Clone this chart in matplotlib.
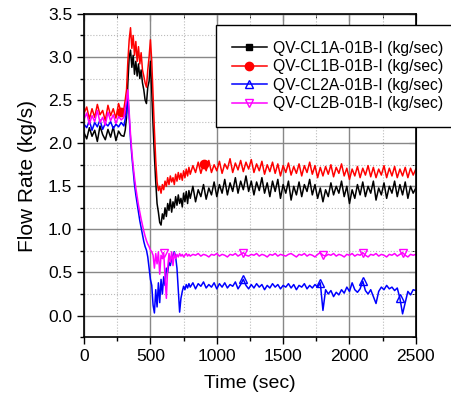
import numpy as np
import matplotlib
matplotlib.use("Agg")
import matplotlib.pyplot as plt
from matplotlib.ticker import MultipleLocator, FormatStrFormatter

plt.rcParams['font.family'] = ['Liberation Sans', 'DejaVu Sans']

# time grid: coarse before/after the transient, finer during it
time = np.concatenate([np.arange(0, 300, 20), np.arange(300, 800, 10), np.arange(800, 2501, 20)])

cl1a = [
    2.12, 2.05, 2.18, 2.08, 2.15, 2.02, 2.20, 2.10, 2.04, 2.16, 2.07, 2.19, 2.03, 2.14, 2.09,
    2.08, 2.15, 2.30, 2.70, 3.00, 3.08, 2.88, 3.02, 2.80, 2.95, 2.78, 2.92, 2.75, 2.85, 2.70,
    2.62, 2.50, 2.46, 2.65, 2.72, 2.95, 2.60, 2.20, 1.85, 1.55, 1.30, 1.20, 1.08, 1.05, 1.18,
    1.12, 1.25, 1.15, 1.30, 1.22, 1.35, 1.20, 1.32, 1.25, 1.38, 1.28, 1.40, 1.30, 1.36, 1.26,
    1.42, 1.32, 1.44, 1.30, 1.45,
    1.36, 1.50, 1.32, 1.46, 1.38, 1.52, 1.35, 1.48, 1.40, 1.55,
    1.38, 1.52, 1.42, 1.58, 1.40, 1.54, 1.44, 1.60, 1.42, 1.56,
    1.46, 1.62, 1.44, 1.56, 1.40, 1.55, 1.45, 1.60, 1.42, 1.54,
    1.38, 1.56, 1.44, 1.58, 1.36, 1.52, 1.42, 1.56, 1.34, 1.50,
    1.40, 1.55, 1.38, 1.52, 1.44, 1.58, 1.40, 1.52, 1.36, 1.48,
    1.32, 1.46, 1.38, 1.54, 1.40, 1.50, 1.42, 1.56, 1.38, 1.50,
    1.30, 1.46, 1.36, 1.52, 1.40, 1.55, 1.38, 1.50, 1.42, 1.56,
    1.34, 1.48, 1.40, 1.54, 1.36, 1.50, 1.42, 1.56, 1.38, 1.52,
    1.40, 1.55, 1.36, 1.50, 1.42, 1.48,
]

cl1b = [
    2.35, 2.42, 2.28, 2.40, 2.30, 2.45, 2.33, 2.38, 2.26, 2.44, 2.32, 2.40, 2.29, 2.46, 2.36,
    2.40, 2.50, 2.62, 2.95, 3.20, 3.34, 3.10, 3.25, 3.02, 3.18, 2.95, 3.12, 2.92, 3.05, 2.85,
    2.78, 2.70, 2.65, 2.85, 3.00, 3.20, 2.95, 2.55, 2.15, 1.80, 1.55, 1.45, 1.50, 1.42, 1.52,
    1.46, 1.56, 1.50, 1.60, 1.52, 1.62, 1.55, 1.60, 1.52, 1.64, 1.56, 1.66, 1.58, 1.65, 1.57,
    1.68, 1.60, 1.70, 1.62, 1.72,
    1.64, 1.74, 1.66, 1.78, 1.65, 1.76, 1.68, 1.80, 1.66, 1.75,
    1.68, 1.79, 1.65, 1.76, 1.70, 1.82, 1.66, 1.77, 1.69, 1.80,
    1.67, 1.78, 1.70, 1.81, 1.66, 1.76, 1.68, 1.79, 1.64, 1.75,
    1.67, 1.78, 1.65, 1.76, 1.62, 1.74, 1.66, 1.77, 1.63, 1.73,
    1.65, 1.76, 1.62, 1.74, 1.66, 1.78, 1.64, 1.74, 1.60, 1.72,
    1.62, 1.73, 1.64, 1.75, 1.61, 1.72, 1.65, 1.76, 1.62, 1.71,
    1.58, 1.70, 1.62, 1.73, 1.60, 1.71, 1.63, 1.74, 1.61, 1.72,
    1.60, 1.70, 1.63, 1.74, 1.60, 1.71, 1.62, 1.73, 1.60, 1.70,
    1.62, 1.72, 1.60, 1.71, 1.63, 1.70,
]

cl2a = [
    2.22, 2.18, 2.26, 2.15, 2.24, 2.19, 2.27, 2.16, 2.23, 2.20, 2.25, 2.17, 2.22, 2.19, 2.24,
    2.20, 2.28, 2.35, 2.55, 2.30, 2.05, 1.85, 1.68, 1.52, 1.40, 1.30, 1.20, 1.10, 1.02, 0.94,
    0.86, 0.80, 0.76, 0.68, 0.55, 0.42, 0.35, 0.12, 0.03, 0.30, 0.10, 0.38, 0.15, 0.42, 0.25,
    0.45, 0.35, 0.55, 0.50, 0.62, 0.58, 0.66, 0.70, 0.74, 0.68, 0.55, 0.30, 0.04, 0.20, 0.28,
    0.34, 0.30, 0.36, 0.32, 0.37,
    0.33, 0.38, 0.31, 0.37, 0.34, 0.39, 0.32, 0.36, 0.33, 0.38,
    0.31, 0.37, 0.33, 0.38, 0.32, 0.36, 0.34, 0.39, 0.31, 0.36,
    0.42, 0.35, 0.31, 0.36, 0.32, 0.37, 0.33, 0.36, 0.30, 0.35,
    0.32, 0.37, 0.33, 0.36, 0.31, 0.35, 0.33, 0.37, 0.32, 0.36,
    0.30, 0.35, 0.33, 0.37, 0.31, 0.35, 0.32, 0.36, 0.33, 0.38,
    0.06, 0.30, 0.25, 0.29, 0.22, 0.27, 0.24, 0.30, 0.26, 0.33,
    0.28, 0.38, 0.30, 0.27, 0.31, 0.40, 0.29, 0.25, 0.30, 0.22,
    0.14, 0.28, 0.33, 0.30, 0.35, 0.31, 0.33, 0.29, 0.32, 0.20,
    0.02, 0.15, 0.28, 0.24, 0.30, 0.29,
]

cl2b = [
    2.28, 2.35, 2.22, 2.32, 2.25, 2.38, 2.24, 2.30, 2.21, 2.36, 2.26, 2.33, 2.23, 2.31, 2.27,
    2.30, 2.40, 2.50, 2.62, 2.35, 2.10, 1.90, 1.74, 1.60, 1.48, 1.38, 1.28, 1.20, 1.12, 1.05,
    0.98, 0.92, 0.87, 0.83, 0.80, 0.76, 0.74, 0.70, 0.55, 0.72, 0.60, 0.74, 0.48, 0.70, 0.66,
    0.73, 0.45, 0.20, 0.55, 0.72, 0.62, 0.74, 0.58, 0.73, 0.66, 0.71, 0.68, 0.72, 0.69, 0.71,
    0.68, 0.70, 0.72, 0.69, 0.71,
    0.69, 0.71, 0.70, 0.72, 0.69, 0.71, 0.70, 0.68, 0.71, 0.70,
    0.72, 0.69, 0.71, 0.70, 0.68, 0.71, 0.70, 0.72, 0.69, 0.71,
    0.73, 0.70, 0.69, 0.71, 0.70, 0.72, 0.69, 0.71, 0.70, 0.68,
    0.71, 0.70, 0.72, 0.69, 0.71, 0.70, 0.69, 0.71, 0.72, 0.70,
    0.68, 0.71, 0.70, 0.72, 0.69, 0.71, 0.70, 0.68, 0.71, 0.73,
    0.70, 0.69, 0.71, 0.70, 0.72, 0.69, 0.71, 0.70, 0.68, 0.71,
    0.70, 0.72, 0.69, 0.71, 0.70, 0.73, 0.70, 0.68, 0.71, 0.70,
    0.72, 0.69, 0.71, 0.70, 0.68, 0.71, 0.70, 0.72, 0.69, 0.71,
    0.73, 0.70, 0.68, 0.71, 0.70, 0.71,
]

labels = ["QV-CL1A-01B-I (kg/sec)", "QV-CL1B-01B-I (kg/sec)",
          "QV-CL2A-01B-I (kg/sec)", "QV-CL2B-01B-I (kg/sec)"]

fig = plt.figure(figsize=(4.52, 3.98), dpi=100)
ax = fig.add_axes([0.186, 0.153, 0.734, 0.812])

ax.plot(time, cl1a, "-", color="black", lw=1.1, marker="s", ms=5, markevery=[], label=labels[0])
ax.plot(time, cl1b, "-", color="red", lw=1.1, marker="o", ms=6, markevery=[14, 70], label=labels[1])
ax.plot(time, cl2a, "-", color="blue", lw=1.1, marker="^", ms=6, mfc="none", markevery=[85, 114, 130, 144], label=labels[2])
ax.plot(time, cl2b, "-", color="magenta", lw=1.1, marker="v", ms=6, mfc="none", markevery=[45, 85, 115, 130, 145], label=labels[3])

ax.set_xlim(0, 2500)
ax.set_ylim(-0.25, 3.5)
ax.xaxis.set_major_locator(MultipleLocator(500))
ax.xaxis.set_minor_locator(MultipleLocator(250))
ax.yaxis.set_major_locator(MultipleLocator(0.5))
ax.yaxis.set_minor_locator(MultipleLocator(0.25))
ax.yaxis.set_major_formatter(FormatStrFormatter('%.1f'))
ax.grid(True, which="major", color="#888888", lw=1, ls="-")
ax.grid(True, which="minor", color="#bbbbbb", lw=0.8, ls=":")
ax.set_axisbelow(True)
ax.tick_params(which="major", direction="out", length=5, width=1, labelsize=12.5)
ax.tick_params(which="minor", direction="out", length=3, width=1)
for s in ax.spines.values():
    s.set_linewidth(1.2)

# inward ticks on top and right
top = ax.secondary_xaxis("top")
top.xaxis.set_major_locator(MultipleLocator(500))
top.xaxis.set_minor_locator(MultipleLocator(250))
top.tick_params(which="major", direction="in", length=5, labeltop=False)
top.tick_params(which="minor", direction="in", length=3)
right = ax.secondary_yaxis("right")
right.yaxis.set_major_locator(MultipleLocator(0.5))
right.yaxis.set_minor_locator(MultipleLocator(0.25))
right.tick_params(which="major", direction="in", length=5, labelright=False)
right.tick_params(which="minor", direction="in", length=3)

ax.set_xlabel("Time (sec)", fontsize=14, labelpad=8)
ax.set_ylabel("Flow Rate (kg/s)", fontsize=15, labelpad=8)

leg = ax.legend(loc="upper left", bbox_to_anchor=(0.375, 0.99), fontsize=11.3, frameon=True,
                fancybox=False, edgecolor="black", framealpha=1, handlelength=2.2,
                borderpad=1.0, labelspacing=0.22, handletextpad=0.4)
leg.get_frame().set_linewidth(1)

fig.savefig("out.png", dpi=100)
